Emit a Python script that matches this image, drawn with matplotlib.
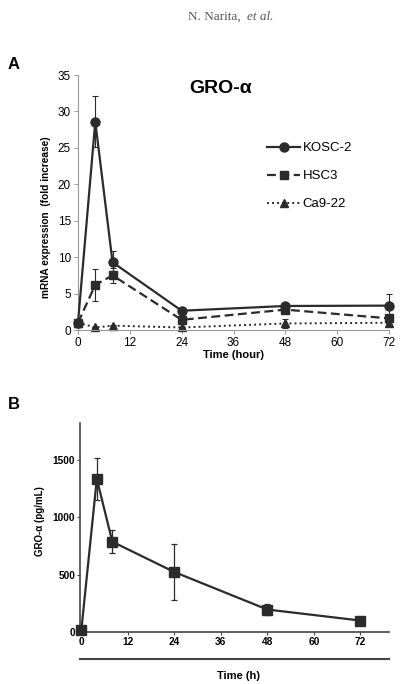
import matplotlib
matplotlib.use("Agg")
import matplotlib.pyplot as plt
from matplotlib.lines import Line2D

plt.rcParams['font.family'] = ['Liberation Sans', 'DejaVu Sans']

# Panel A: mRNA fold increase
hours = [0, 4, 8, 24, 48, 72]
kosc2 = [1.0, 28.6, 9.3, 2.65, 3.3, 3.35]
kosc2_err = [0.2, 3.5, 1.6, 0.2, 0.4, 1.6]
hsc3 = [1.0, 6.2, 7.5, 1.4, 2.8, 1.6]
hsc3_err = [0.2, 2.2, 1.0, 0.3, 0.3, 0.5]
ca922 = [1.0, 0.35, 0.6, 0.35, 0.9, 1.0]
ca922_err = [0.1, 0.1, 0.1, 0.1, 0.6, 0.2]
a_xticks = [0, 12, 24, 36, 48, 60, 72]
a_yticks = [0, 5, 10, 15, 20, 25, 30, 35]

# Panel B: protein level
b_hours = [0, 4, 8, 24, 48, 72]
gro = [15, 1335, 787, 523, 196, 100]
gro_err = [5, 185, 100, 240, 50, 10]
b_xticks = [0, 12, 24, 36, 48, 60, 72]
b_yticks = [0, 500, 1000, 1500]

dark = '#2b2b2b'

fig = plt.figure(figsize=(4.01, 6.84), dpi=100)

# header
fig.text(0.469, 0.975, 'N. Narita, ', family='Liberation Serif', fontsize=9.5,
         color='#555555', ha='left', va='center')
fig.text(0.616, 0.975, 'et al.', family='Liberation Serif', style='italic', fontsize=9.5,
         color='#555555', ha='left', va='center')

# ---- panel A
axA = fig.add_axes([0.1945, 0.5175, 0.7756, 0.3728])
ekw = dict(elinewidth=0.8, capsize=2, capthick=0.8, ecolor=dark, clip_on=False)
axA.errorbar(hours, kosc2, yerr=kosc2_err, color=dark, lw=1.6, marker='o', ms=6.5,
             zorder=4, **ekw)
axA.errorbar(hours, hsc3, yerr=hsc3_err, color=dark, lw=1.6, marker='s', ms=6,
             dashes=(4, 2), zorder=3, **ekw)
axA.errorbar(hours, ca922, yerr=ca922_err, color=dark, lw=1.4, marker='^', ms=6,
             dashes=(1, 1.6), zorder=2, **ekw)
axA.set_xlim(0, 72)
axA.set_ylim(0, 35)
axA.set_xticks(a_xticks)
axA.set_yticks(a_yticks)
axA.spines[['top', 'right']].set_visible(False)
for s in ['left', 'bottom']:
    axA.spines[s].set_color('#999999')
    axA.spines[s].set_linewidth(0.8)
axA.tick_params(length=3, width=0.7, color='#999999', labelsize=8.5, pad=2)
axA.set_xlabel('Time (hour)', fontsize=8, fontweight='bold', labelpad=1)
axA.text(0.457, 0.949, 'GRO-α', transform=axA.transAxes, fontsize=14,
         fontweight='bold', ha='center', va='center')
handles = [
    Line2D([], [], color=dark, lw=1.6, marker='o', ms=6.5),
    Line2D([], [], color=dark, lw=1.6, marker='s', ms=6, dashes=(4, 2)),
    Line2D([], [], color=dark, lw=1.4, marker='^', ms=6, dashes=(1, 1.6)),
]
axA.legend(handles, ['KOSC-2', 'HSC3', 'Ca9-22'], loc='upper left',
           bbox_to_anchor=(0.591, 0.758), frameon=False, borderaxespad=0,
           fontsize=9.5, handlelength=2.5, handletextpad=0.2, labelspacing=1.2)
fig.text(0.115, 0.683, 'mRNA expression  (fold increase)', rotation=90,
         fontsize=7.3, fontweight='bold', ha='center', va='center')
fig.text(0.02, 0.905, 'A', fontsize=12, fontweight='bold', ha='left', va='center')

# ---- panel B
axB = fig.add_axes([0.1995, 0.0760, 0.7706, 0.3056])
axB.errorbar(b_hours, gro, yerr=gro_err, color=dark, lw=1.6, marker='s', ms=6.5,
             elinewidth=0.9, capsize=2, capthick=0.9, ecolor=dark, clip_on=False, zorder=3)
axB.set_xlim(-0.34, 79.4)
axB.set_ylim(0, 1822)
axB.set_xticks(b_xticks)
axB.set_yticks(b_yticks)
axB.spines[['top', 'right']].set_visible(False)
for s in ['left', 'bottom']:
    axB.spines[s].set_color('#444444')
    axB.spines[s].set_linewidth(1.2)
axB.tick_params(length=2, width=0.8, color='#444444', labelsize=7.3, pad=1.5)
for lab in axB.get_xticklabels() + axB.get_yticklabels():
    lab.set_fontweight('bold')
fig.text(0.1, 0.238, 'GRO-α (pg/mL)', rotation=90, fontsize=7,
         fontweight='bold', ha='center', va='center')
fig.add_artist(Line2D([80 / 401, 389 / 401], [1 - 659 / 684, 1 - 659 / 684],
                      color='#444444', lw=1.5))
fig.text(0.595, 0.0117, 'Time (h)', fontsize=8, fontweight='bold', ha='center', va='center')
fig.text(0.02, 0.408, 'B', fontsize=12, fontweight='bold', ha='left', va='center')

fig.savefig('out.png', dpi=100)
